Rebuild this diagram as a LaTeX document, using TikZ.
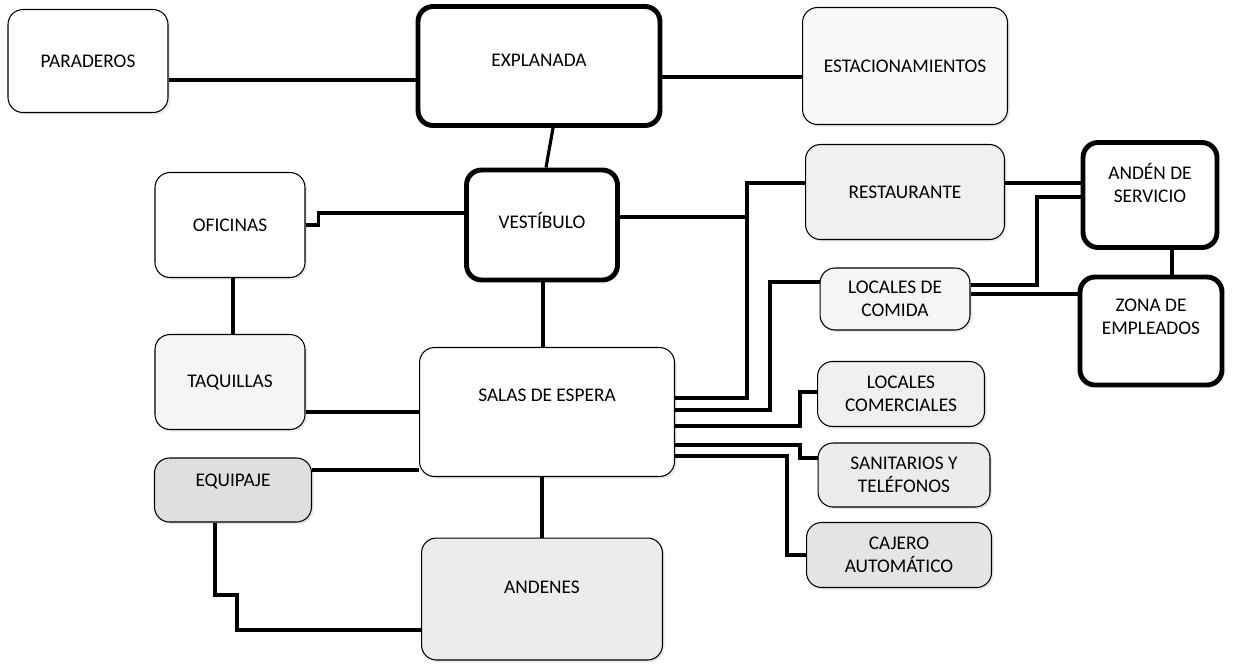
\documentclass[tikz,border=0pt]{standalone}
\usepackage{fontspec}
\setmainfont{Carlito}
\usetikzlibrary{shadows}

\tikzset{
  area/.style={draw, fill=white, rounded corners=0.3cm, line width=0.6pt,
    align=center, inner sep=2pt, font=\fontsize{11}{13}\selectfont,
    drop shadow={shadow xshift=1.2pt, shadow yshift=-1.2pt, fill=gray!35}},
  mainarea/.style={area, line width=2.8pt},
  link/.style={line width=1.8pt},
}

\begin{document}
\begin{tikzpicture}[x=0.02cm,y=-0.02cm]
\useasboundingbox (0,0) rectangle (1233,664);

% top row
\node[area, minimum width=3.2cm, minimum height=2.06cm] (paraderos) at (88,61) {PARADEROS};
\node[mainarea, minimum width=4.84cm, minimum height=2.38cm, text depth=0.24cm] (explanada) at (539,66) {EXPLANADA};
\node[area, fill=gray!5, minimum width=4.1cm, minimum height=2.34cm] (estacionamientos) at (905,66) {ESTACIONAMIENTOS};

% centre column
\node[mainarea, minimum width=3.02cm, minimum height=2.2cm, text depth=0.2cm] (vestibulo) at (542,225) {VESTÍBULO};
\node[area, minimum width=5.1cm, minimum height=2.58cm, text depth=0.68cm] (salas) at (547,412) {SALAS DE ESPERA};
\node[area, fill=gray!15, minimum width=4.82cm, minimum height=2.44cm, text depth=0.48cm] (andenes) at (542,599) {ANDENES};

% left column
\node[area, minimum width=3cm, minimum height=2.1cm] (oficinas) at (230,225) {OFICINAS};
\node[area, fill=gray!8, minimum width=3cm, minimum height=1.9cm] (taquillas) at (230,382) {TAQUILLAS};
\node[area, fill=gray!25, minimum width=3.14cm, minimum height=1.28cm, text depth=0.4cm] (equipaje) at (233,490) {EQUIPAJE};

% right column
\node[area, fill=gray!12, minimum width=3.98cm, minimum height=1.9cm] (restaurante) at (905,192) {RESTAURANTE};
\node[area, fill=gray!8, minimum width=3cm, minimum height=1.24cm] (comida) at (895,299) {LOCALES DE\\COMIDA};
\node[area, fill=gray!12, minimum width=3.34cm, minimum height=1.3cm] (comerciales) at (901,394) {LOCALES\\COMERCIALES};
\node[area, fill=gray!15, minimum width=3.44cm, minimum height=1.28cm] (sanitarios) at (904,475) {SANITARIOS Y\\TELÉFONOS};
\node[area, fill=gray!20, minimum width=3.7cm, minimum height=1.3cm] (cajero) at (899,555) {CAJERO\\AUTOMÁTICO};
\node[mainarea, minimum width=2.68cm, minimum height=2.1cm, text depth=0.48cm] (servicio) at (1150,195) {ANDÉN DE\\SERVICIO};
\node[mainarea, minimum width=2.84cm, minimum height=2.16cm, text depth=0.56cm] (zona) at (1151,331) {ZONA DE\\EMPLEADOS};

\coordinate (hub) at (747,217);

% connectors
\draw[link] (paraderos.east |- 0,80) -- (explanada.west |- 0,80);
\draw[link] (explanada.east |- 0,77) -- (estacionamientos.west |- 0,77);
\draw[link] (explanada.south -| 553,0) -- (vestibulo.north -| 546,0);
\draw[link] (oficinas.east |- 0,225) -- ++(13,0) |- (vestibulo.west |- 0,213);
\draw[link] (oficinas.south -| 233,0) -- (taquillas.north -| 233,0);
\draw[link] (vestibulo.south -| 543,0) -- (salas.north -| 543,0);
\draw[link] (taquillas.east |- 0,412) -- (salas.west |- 0,412);
\draw[link] (equipaje.east |- 0,470) -- (salas.west |- 0,470);
\draw[link] (salas.south -| 542,0) -- (andenes.north -| 542,0);
\draw[link] (equipaje.south -| 215,0) -- (215,595) -- (237,595) |- (andenes.west |- 0,630);
\draw[link] (vestibulo.east |- hub) -- (hub);
\draw[link] (salas.east |- 0,398) -| (hub) |- (restaurante.west |- 0,183);
\draw[link] (restaurante.east |- 0,183) -- (servicio.west |- 0,183);
\draw[link] (salas.east |- 0,410) -| (770,282) -- (comida.west |- 0,282);
\draw[link] (comida.east |- 0,285) -| (1037,197) -- (servicio.west |- 0,197);
\draw[link] (comida.east |- 0,294) -- (zona.west |- 0,294);
\draw[link] (servicio.south -| 1172,0) -- (zona.north -| 1172,0);
\draw[link] (salas.east |- 0,426) -| (800,392) -- (comerciales.west |- 0,392);
\draw[link] (salas.east |- 0,445) -| (800,458) -- (sanitarios.west |- 0,458);
\draw[link] (salas.east |- 0,456) -| (787,555) -- (cajero.west |- 0,555);
\end{tikzpicture}
\end{document}
